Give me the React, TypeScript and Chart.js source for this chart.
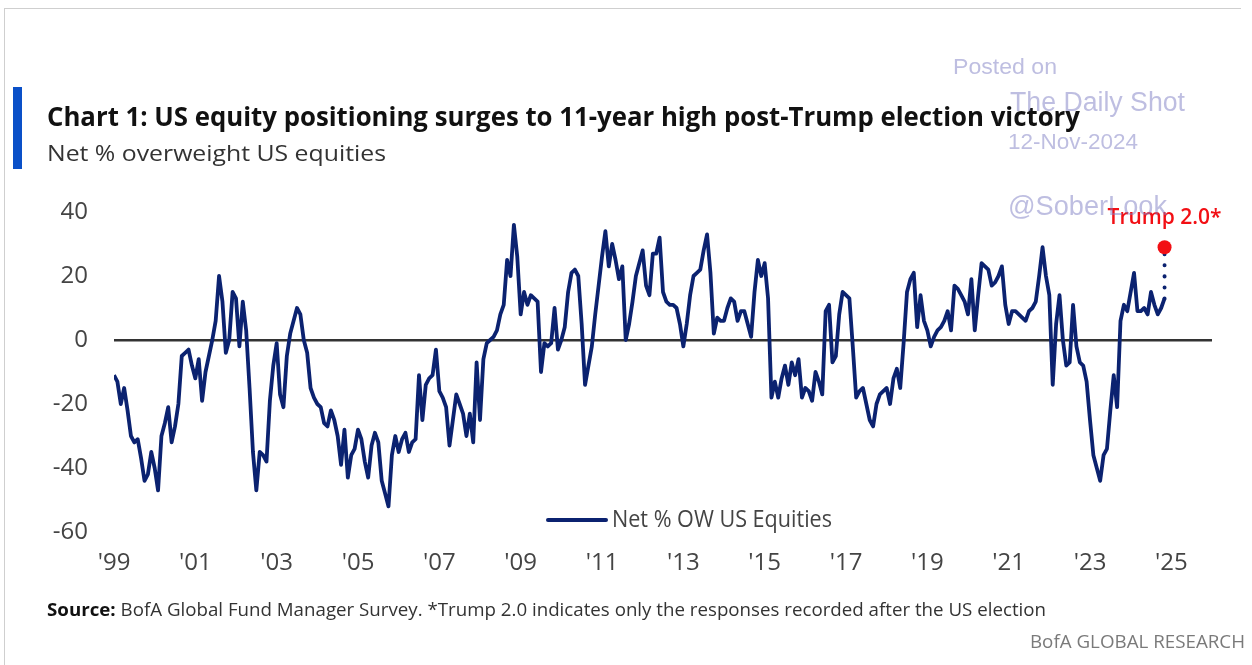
import React, { useEffect, useLayoutEffect, useRef } from "react";
import { Chart, registerables } from "chart.js";

Chart.register(...registerables);

// ---------- DATA (monthly, Net % overweight US equities) ----------
const firstYear = 1999;
const y1999 = [-11, -13, -20, -15, -22, -30, -32, -31, -37, -44, -42, -35];
const y2000 = [-40, -47, -30, -26, -21, -32, -27, -20, -5, -4, -3, -8];
const y2001 = [-12, -6, -19, -10, -5, 0, 6, 20, 12, -4, 0, 15];
const y2002 = [13, -2, 12, 3, -15, -35, -47, -35, -36, -38, -19, -8];
const y2003 = [-1, -17, -21, -5, 2, 6, 10, 8, 0, -4, -15, -18];
const y2004 = [-20, -21, -26, -27, -22, -25, -30, -39, -28, -43, -36, -34];
const y2005 = [-28, -31, -38, -43, -33, -29, -32, -44, -48, -52, -36, -30];
const y2006 = [-35, -31, -29, -35, -32, -31, -11, -25, -14, -12, -11, -3];
const y2007 = [-16, -18, -21, -33, -25, -17, -20, -23, -30, -23, -32, -7];
const y2008 = [-25, -6, -1, 0, 1, 3, 8, 11, 25, 20, 36, 26];
const y2009 = [8, 15, 11, 14, 13, 12, -10, -1, -2, -1, 10, -3];
const y2010 = [0, 4, 15, 21, 22, 20, 5, -14, -8, -2, 8, 17];
const y2011 = [26, 34, 23, 30, 25, 19, 23, 0, 5, 12, 20, 24];
const y2012 = [28, 17, 14, 27, 27, 32, 15, 12, 11, 11, 10, 5];
const y2013 = [-2, 5, 14, 20, 21, 22, 28, 33, 21, 2, 7, 6];
const y2014 = [6, 10, 13, 12, 6, 9, 9, 5, 1, 15, 25, 20];
const y2015 = [24, 13, -18, -13, -18, -12, -8, -14, -7, -11, -6, -18];
const y2016 = [-15, -16, -19, -10, -13, -17, 9, 11, -7, -5, 8, 15];
const y2017 = [14, 13, -2, -18, -16, -15, -20, -25, -27, -20, -17, -16];
const y2018 = [-15, -20, -12, -9, -15, -1, 15, 19, 21, 4, 14, 6];
const y2019 = [3, -2, 1, 3, 4, 6, 9, 3, 17, 16, 14, 12];
const y2020 = [8, 19, 3, 14, 24, 23, 22, 17, 18, 20, 23, 11];
const y2021 = [5, 9, 9, 8, 7, 6, 9, 10, 12, 20, 29, 20];
const y2022 = [14, -14, 5, 14, 0, -8, -7, 11, -2, -7, -8, -13];
const y2023 = [-25, -36, -40, -44, -36, -34, -22, -11, -21, 6, 11, 9];
const y2024 = [15, 21, 9, 9, 10, 8, 15, 11, 8, 10, 13];

const yearlyValues = [
  y1999, y2000, y2001, y2002, y2003, y2004, y2005, y2006, y2007, y2008,
  y2009, y2010, y2011, y2012, y2013, y2014, y2015, y2016, y2017, y2018,
  y2019, y2020, y2021, y2022, y2023, y2024,
];

const trumpValue = 29;
const trumpLabel = "Trump 2.0*";
const seriesLabel = "Net % OW US Equities";

const xTickYears = [1999, 2001, 2003, 2005, 2007, 2009, 2011, 2013, 2015, 2017, 2019, 2021, 2023, 2025];
const xTickLabels = ["'99", "'01", "'03", "'05", "'07", "'09", "'11", "'13", "'15", "'17", "'19", "'21", "'23", "'25"];
const yTickValues = [-60, -40, -20, 0, 20, 40];
const xMaxYear = 2026;

// ---------- STYLE ----------
const NAVY = "#0B2270";
const RED = "#F20F14";
const TICK_FONT = '"Open Sans", "Liberation Sans", sans-serif';
const TEXT_FONT = '"Open Sans", "Liberation Sans", sans-serif';
const WM_FONT = '"Liberation Sans", Arial, sans-serif';
const WM_COLOR = "rgba(125,125,195,0.5)";

function FitText(props: {
  left: number;
  top: number;
  width: number;
  style: React.CSSProperties;
  children: React.ReactNode;
}) {
  const ref = useRef<HTMLDivElement>(null);
  useLayoutEffect(() => {
    const el = ref.current;
    if (!el) return;
    el.style.transform = "none";
    const w = el.getBoundingClientRect().width;
    if (w > 0) el.style.transform = `scaleX(${props.width / w})`;
  });
  return (
    <div
      ref={ref}
      style={{
        position: "absolute",
        left: props.left,
        top: props.top,
        whiteSpace: "nowrap",
        transformOrigin: "0 0",
        ...props.style,
      }}
    >
      {props.children}
    </div>
  );
}

function fitFill(ctx: CanvasRenderingContext2D, text: string, x: number, y: number, width: number, align: "left" | "center") {
  const w = ctx.measureText(text).width;
  const k = w > 0 ? width / w : 1;
  ctx.save();
  ctx.translate(x, y);
  ctx.scale(k, 1);
  ctx.textAlign = align;
  ctx.fillText(text, 0, 0);
  ctx.restore();
}

export default function App() {
  const canvasRef = useRef<HTMLCanvasElement>(null);

  useEffect(() => {
    const canvas = canvasRef.current;
    if (!canvas) return;
    const series = yearlyValues.flat();
    const points = series.map((v, i) => ({ x: i, y: v }));
    const lastIndex = series.length - 1;
    const xTickMonths = xTickYears.map((y) => (y - firstYear) * 12);
    const labelFor = (v: number) => {
      const k = xTickMonths.indexOf(v);
      return k >= 0 ? xTickLabels[k] : "";
    };

    const annotate = {
      id: "annotate",
      afterDatasetsDraw(chart: any) {
        const ctx = chart.ctx as CanvasRenderingContext2D;
        const area = chart.chartArea;
        const xs = chart.scales.x;
        const ys = chart.scales.y;
        ctx.save();
        // legend (inside plot, bottom centre)
        const ly = area.bottom - 12;
        const lx = area.left + 434;
        ctx.strokeStyle = NAVY;
        ctx.lineWidth = 4;
        ctx.lineCap = "round";
        ctx.beginPath();
        ctx.moveTo(lx, ly);
        ctx.lineTo(lx + 58, ly);
        ctx.stroke();
        ctx.fillStyle = "#444";
        ctx.font = `23px ${TICK_FONT}`;
        ctx.textBaseline = "middle";
        fitFill(ctx, seriesLabel, lx + 64, ly, 220, "left");
        // Trump 2.0 label
        const tx = xs.getPixelForValue(lastIndex);
        const ty = ys.getPixelForValue(trumpValue);
        ctx.fillStyle = RED;
        ctx.font = `600 22px ${TICK_FONT}`;
        ctx.textBaseline = "alphabetic";
        fitFill(ctx, trumpLabel, tx, ty - 23, 114, "center");
        ctx.restore();
      },
    };

    const chart = new Chart(canvas, {
      type: "line",
      data: {
        datasets: [
          {
            label: seriesLabel,
            data: points,
            borderColor: NAVY,
            borderWidth: 3.8,
            pointRadius: 0,
            tension: 0,
            borderJoinStyle: "round",
            order: 2,
          } as any,
          {
            label: trumpLabel,
            data: [
              { x: lastIndex, y: series[lastIndex] },
              { x: lastIndex, y: trumpValue },
            ],
            borderColor: NAVY,
            borderWidth: 4,
            borderDash: [0.01, 11],
            borderCapStyle: "round",
            pointRadius: [0, 7],
            pointBackgroundColor: RED,
            pointBorderColor: RED,
            pointBorderWidth: 0,
            order: 1,
          } as any,
        ],
      },
      options: {
        responsive: false,
        animation: false,
        events: [],
        layout: { padding: { top: 212, right: 40, left: 0, bottom: 0 } },
        plugins: {
          legend: { display: false },
          tooltip: { enabled: false },
        },
        scales: {
          x: {
            type: "linear",
            min: 0,
            max: (xMaxYear - firstYear) * 12,
            afterBuildTicks: (s: any) => {
              s.ticks = xTickMonths.map((v) => ({ value: v }));
            },
            afterFit: (s: any) => {
              s.height = 133;
            },
            grid: { display: false, drawTicks: false },
            border: { display: false },
            ticks: {
              autoSkip: false,
              maxRotation: 0,
              padding: 17,
              color: "#444",
              font: { family: TICK_FONT, size: 24 },
              callback: (v: any) => labelFor(Number(v)),
            },
          },
          y: {
            min: -60,
            max: 40,
            afterBuildTicks: (s: any) => {
              s.ticks = yTickValues.map((v) => ({ value: v }));
            },
            afterFit: (s: any) => {
              s.width = 114;
            },
            grid: {
              drawTicks: false,
              color: (c: any) => (c.tick && c.tick.value === 0 ? "#333" : "rgba(0,0,0,0)"),
              lineWidth: 2.5,
            },
            border: { display: false },
            ticks: {
              padding: 26,
              color: "#444",
              font: { family: TICK_FONT, size: 24 },
            },
          },
        },
      },
      plugins: [annotate],
    } as any);
    return () => chart.destroy();
  }, []);

  return (
    <div
      style={{
        position: "absolute",
        left: 0,
        top: 0,
        width: 1252,
        height: 665,
        overflow: "hidden",
        background: "#fff",
      }}
    >
      {/* frame */}
      <div style={{ position: "absolute", left: 4, top: 8, width: 1236, height: 660, borderLeft: "1px solid #cfcfcf", borderTop: "1px solid #cfcfcf" }} />
      <canvas ref={canvasRef} width={1252} height={665} style={{ position: "absolute", left: 0, top: 0 }} />
      {/* accent bar */}
      <div style={{ position: "absolute", left: 13, top: 87, width: 9, height: 82, background: "#0A50C8" }} />
      <FitText left={47} top={102} width={1033} style={{ fontFamily: TEXT_FONT, fontWeight: 700, fontSize: 27, lineHeight: "27px", color: "#111" }}>
        Chart 1: US equity positioning surges to 11-year high post-Trump election victory
      </FitText>
      <FitText left={47} top={141} width={339} style={{ fontFamily: TEXT_FONT, fontWeight: 400, fontSize: 22, lineHeight: "22px", color: "#333" }}>
        Net % overweight US equities
      </FitText>
      <FitText left={47} top={600} width={999} style={{ fontFamily: TEXT_FONT, fontWeight: 400, fontSize: 18, lineHeight: "18px", color: "#333" }}>
        <b style={{ fontWeight: 700, color: "#111" }}>Source:</b> BofA Global Fund Manager Survey. *Trump 2.0 indicates only the responses recorded after the US election
      </FitText>
      <FitText left={1030} top={632} width={215} style={{ fontFamily: TEXT_FONT, fontWeight: 400, fontSize: 18, lineHeight: "18px", color: "#7a7a7a" }}>
        BofA GLOBAL RESEARCH
      </FitText>
      {/* watermark */}
      <FitText left={953} top={56} width={104} style={{ fontFamily: WM_FONT, fontSize: 22, lineHeight: "22px", color: WM_COLOR }}>
        Posted on
      </FitText>
      <FitText left={1010} top={89} width={175} style={{ fontFamily: WM_FONT, fontSize: 27, lineHeight: "27px", color: WM_COLOR }}>
        The Daily Shot
      </FitText>
      <FitText left={1008} top={131} width={130} style={{ fontFamily: WM_FONT, fontSize: 22, lineHeight: "22px", color: WM_COLOR }}>
        12-Nov-2024
      </FitText>
      <FitText left={1008} top={193} width={159} style={{ fontFamily: WM_FONT, fontSize: 27, lineHeight: "27px", color: WM_COLOR }}>
        @SoberLook
      </FitText>
    </div>
  );
}
